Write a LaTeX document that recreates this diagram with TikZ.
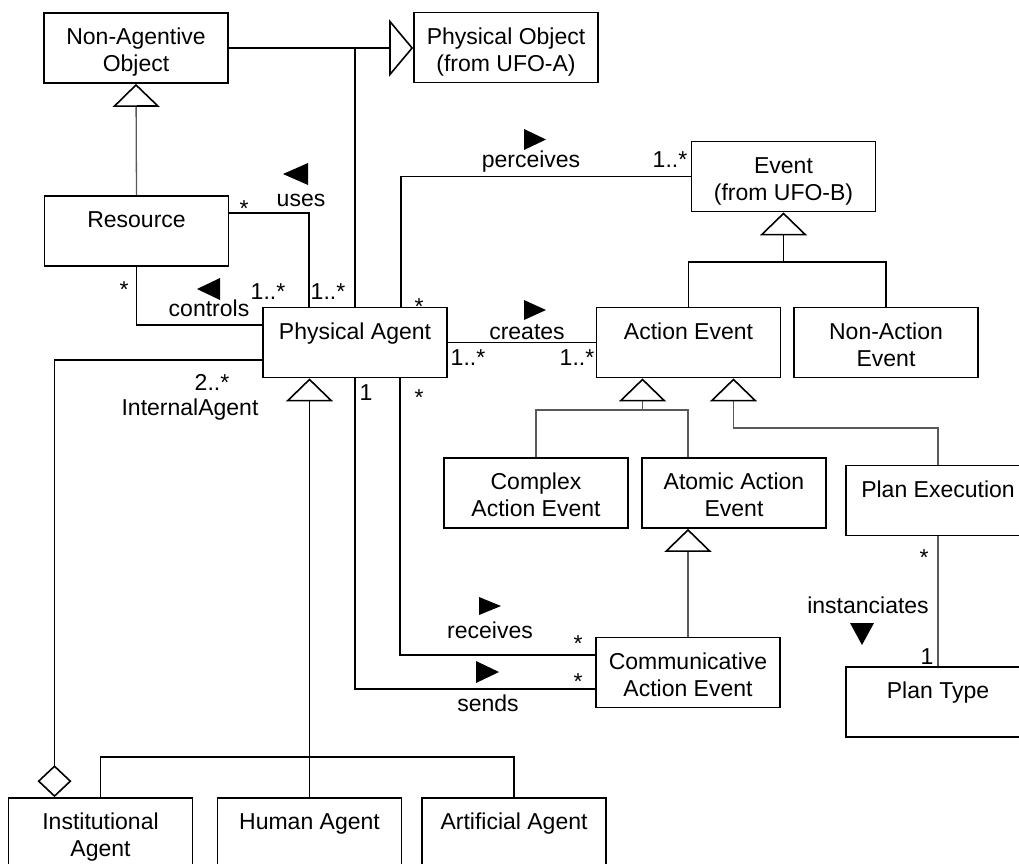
\documentclass[tikz,border=0pt]{standalone}
\usepackage{fontspec}
\setmainfont{Liberation Sans}
\usetikzlibrary{arrows.meta}

% class box contents: names set from the top of a 70pt high box
\newcommand\clsbox[1]{\parbox[c][70pt][t]{180pt}{\centering\vspace*{13.5pt}\rule{0pt}{18pt}#1\par}}

\tikzset{
  cls/.style={draw, line width=1.7pt, inner sep=0pt, minimum width=184pt,
    minimum height=70pt, font=\fontsize{23}{27}\selectfont},
  lbl/.style={inner sep=0pt, font=\fontsize{23}{27}\selectfont},
  assoc/.style={line width=1.5pt, black},
  faint/.style={line width=1.3pt, black!65},
  gen/.style={-{Triangle[open, length=23pt, width=47pt, line width=1.6pt, color=black]}},
  bigGen/.style={-{Triangle[open, length=24pt, width=57pt, line width=1.6pt, color=black]}},
  agg/.style={-{Diamond[open, length=32pt, width=34pt, line width=1.6pt, color=black]}},
  dirTip/.style={fill=black},
}

\begin{document}
\begin{tikzpicture}[x=1pt, y=-1pt]
\fill[white] (0,0) rectangle (1019,863);
\useasboundingbox (0,0) rectangle (1019,863);

% classes
\node[cls] (na)    at (136,48)    {\clsbox{Non-Agentive\\Object}};
\node[cls] (po)    at (506,47.5)  {\clsbox{Physical Object\\(from UFO-A)}};
\node[cls] (res)   at (136.5,231) {\clsbox{Resource}};
\node[cls] (pa)    at (355,342.5) {\clsbox{Physical Agent}};
\node[cls] (ev)    at (783.5,176.5) {\clsbox{Event\\(from UFO-B)}};
\node[cls] (ae)    at (688.5,342.5) {\clsbox{Action Event}};
\node[cls] (nae)   at (886,342.5) {\clsbox{Non-Action\\Event}};
\node[cls] (cae)   at (536,493)   {\clsbox{Complex\\Action Event}};
\node[cls] (aae)   at (734,493)   {\clsbox{Atomic Action\\Event}};
\node[cls] (pe)    at (938,500.5) {\clsbox{Plan Execution}};
\node[cls] (cme)   at (688,672.5) {\clsbox{Communicative\\Action Event}};
\node[cls] (pt)    at (938,702)   {\clsbox{Plan Type}};
\node[cls] (inst)  at (100.5,833) {\clsbox{Institutional\\Agent}};
\node[cls] (human) at (309.5,833) {\clsbox{Human Agent}};
\node[cls] (art)   at (514,833)   {\clsbox{Artificial Agent}};

% junction points of the generalization trees
\coordinate (agj) at (309.5,757);
\coordinate (evj) at (783.5,262);
\coordinate (aej) at (642.5,410);
\coordinate (pej) at (938,428);
\coordinate (ae2) at ([xshift=45pt]ae.south);

% generalizations
\draw[assoc, bigGen] (na.east) -- (na.east -| po.west);
\draw[assoc] (pa.north) -- (pa.north |- na.east);
\draw[faint, gen] (res.north) -- (na.south);
\draw[assoc, gen] (agj) -- ([xshift=-45.5pt]pa.south);
\draw[assoc] (inst.north) |- (agj) -| (art.north);
\draw[assoc] (human.north) -- (agj);
\draw[assoc, gen] (evj) -- (ev.south);
\draw[assoc] (ae.north) |- (evj) -| (nae.north);
\draw[faint, gen] (aej) -- ([xshift=-46pt]ae.south);
\draw[faint] (cae.north) |- (aej) -| ([xshift=-46pt]aae.north);
\draw[faint, gen] (pe.north) -- (pej) -| (ae2);
\draw[faint, gen] (cme.north) -- ([xshift=-46pt]aae.south);

% associations
\draw[assoc] ([yshift=18pt]res.east) -| ([xshift=-46pt]pa.north);
\draw[assoc] (res.south) |- ([yshift=17.5pt]pa.west);
\draw[assoc, agg] ([yshift=-17.5pt]pa.west) -| ([xshift=-46pt]inst.north);
\draw[assoc] ([xshift=46pt]pa.north) |- (ev.west);
\draw[assoc] (pa.east) -- (ae.west);
\draw[assoc] ([xshift=45pt]pa.south) |- ([yshift=17.5pt]cme.west);
\draw[assoc] (pa.south) |- ([yshift=-16.5pt]cme.west);
\draw[faint] (pe.south) -- (pt.north);

% reading direction marks
\fill[dirTip] (283,174) -- (308,163) -- (308,185) -- cycle;
\fill[dirTip] (197,289) -- (220,278) -- (220,300) -- cycle;
\fill[dirTip] (524,129) -- (524,150) -- (546,139.5) -- cycle;
\fill[dirTip] (524,300) -- (524,320) -- (546,310) -- cycle;
\fill[dirTip] (479,597) -- (479,615) -- (501,606) -- cycle;
\fill[dirTip] (476,661) -- (476,683) -- (499,672) -- cycle;
\fill[dirTip] (850,623) -- (874,623) -- (862,645) -- cycle;

% association names and multiplicities
\node[lbl] (uM)  at (244,209) {*};
\node[lbl] (uN)  at (301,200) {uses};
\node[lbl] (pN)  at (531,162) {perceives};
\node[lbl] (pM)  at (670,160) {1..*};
\node[lbl] (pM2) at (419,307) {*};
\node[lbl] (crN) at (527,332) {creates};
\node[lbl] (crM) at (468,358) {1..*};
\node[lbl] (crM2) at (577,358) {1..*};
\node[lbl] (coM) at (124,290) {*};
\node[lbl] (coN) at (209,308) {controls};
\node[lbl] (coM2) at (268,292) {1..*};
\node[lbl] (uM2) at (328,292) {1..*};
\node[lbl] (iaM) at (212,382) {2..*};
\node[lbl] (iaN) at (190,410) {InternalAgent};
\node[lbl] (sM2) at (366,393) {1};
\node[lbl] (rM2) at (419,398) {*};
\node[lbl] (rN)  at (490,630) {receives};
\node[lbl] (rM)  at (578,644) {*};
\node[lbl] (sN)  at (488,703) {sends};
\node[lbl] (sM)  at (578,682) {*};
\node[lbl] (inM) at (924,558) {*};
\node[lbl] (inN) at (868,605) {instanciates};
\node[lbl] (inM2) at (927,657) {1};
\end{tikzpicture}
\end{document}
